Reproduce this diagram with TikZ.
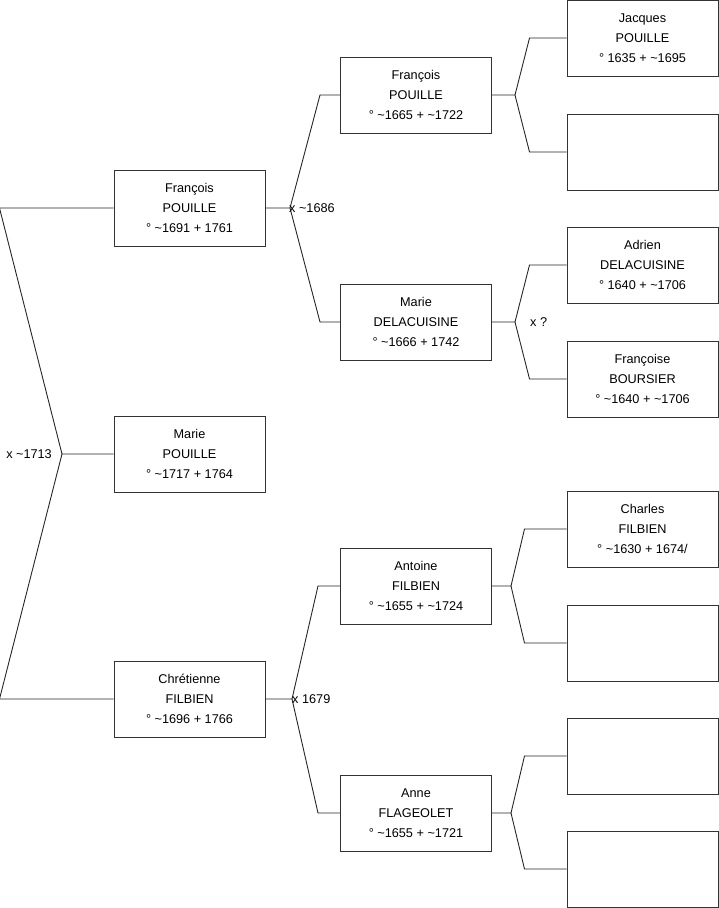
\documentclass[tikz,border=0pt]{standalone}
\usepackage{fontspec}
\setmainfont{Liberation Sans}
\begin{document}
\begin{tikzpicture}[x=1pt, y=-1pt, font=\fontsize{12.7}{20}\selectfont,
  person/.style={draw=black!80, line width=1pt, fill=white, align=center, minimum width=151pt, minimum height=76pt, inner sep=0pt},
  link/.style={draw=black!85, line width=0.9pt},
  union/.style={inner sep=0pt}]
\useasboundingbox (0,0) rectangle (719,908);
% children
\node[person] (francoisA) at (189.5,208) {François\\POUILLE\\° \textasciitilde1691 + 1761};
\node[person] (marieA) at (189.5,454) {Marie\\POUILLE\\° \textasciitilde1717 + 1764};
\node[person] (chretienne) at (189.5,699) {Chrétienne\\FILBIEN\\° \textasciitilde1696 + 1766};
% parents
\node[person] (francoisB) at (416,95) {François\\POUILLE\\° \textasciitilde1665 + \textasciitilde1722};
\node[person] (marieB) at (416,322) {Marie\\DELACUISINE\\° \textasciitilde1666 + 1742};
\node[person] (antoine) at (416,586) {Antoine\\FILBIEN\\° \textasciitilde1655 + \textasciitilde1724};
\node[person] (anne) at (416,813) {Anne\\FLAGEOLET\\° \textasciitilde1655 + \textasciitilde1721};
% grandparents
\node[person] (jacques) at (642.5,38) {Jacques\\POUILLE\\° 1635 + \textasciitilde1695};
\node[person] (emptyA) at (642.5,152) {};
\node[person] (adrien) at (642.5,265) {Adrien\\DELACUISINE\\° 1640 + \textasciitilde1706};
\node[person] (francoise) at (642.5,379) {Françoise\\BOURSIER\\° \textasciitilde1640 + \textasciitilde1706};
\node[person] (charles) at (642.5,529) {Charles\\FILBIEN\\° \textasciitilde1630 + 1674/};
\node[person] (emptyB) at (642.5,643) {};
\node[person] (emptyC) at (642.5,756) {};
\node[person] (emptyD) at (642.5,869) {};
% unions
\coordinate (u0) at (62,454);
\coordinate (u1) at (290,208);
\coordinate (u2) at (515,95);
\coordinate (u3) at (515,322);
\coordinate (u4) at (292,699);
\coordinate (u5) at (511,586);
\coordinate (u6) at (511,813);
\draw[link] (marieA.west) -- (u0) -- ([xshift=-114]francoisA.west) -- (francoisA.west);
\draw[link] (u0) -- ([xshift=-114]chretienne.west) -- (chretienne.west);
\draw[link] (francoisA.east) -- (u1) -- ([xshift=-20]francoisB.west) -- (francoisB.west);
\draw[link] (u1) -- ([xshift=-20]marieB.west) -- (marieB.west);
\draw[link] (chretienne.east) -- (u4) -- ([xshift=-22]antoine.west) -- (antoine.west);
\draw[link] (u4) -- ([xshift=-22]anne.west) -- (anne.west);
\draw[link] (francoisB.east) -- (u2) -- ([xshift=-37]jacques.west) -- (jacques.west);
\draw[link] (u2) -- ([xshift=-37]emptyA.west) -- (emptyA.west);
\draw[link] (marieB.east) -- (u3) -- ([xshift=-37]adrien.west) -- (adrien.west);
\draw[link] (u3) -- ([xshift=-37]francoise.west) -- (francoise.west);
\draw[link] (antoine.east) -- (u5) -- ([xshift=-42]charles.west) -- (charles.west);
\draw[link] (u5) -- ([xshift=-42]emptyB.west) -- (emptyB.west);
\draw[link] (anne.east) -- (u6) -- ([xshift=-42]emptyC.west) -- (emptyC.west);
\draw[link] (u6) -- ([xshift=-42]emptyD.west) -- (emptyD.west);
% marriage dates
\node[union, anchor=east] (d0) at ([xshift=-10]u0) {x \textasciitilde1713};
\node[union, anchor=west] (d1) at ([xshift=-1]u1) {x \textasciitilde1686};
\node[union, anchor=west] (d3) at ([xshift=15]u3) {x ?};
\node[union, anchor=west] (d4) at (u4) {x 1679};
\end{tikzpicture}
\end{document}
